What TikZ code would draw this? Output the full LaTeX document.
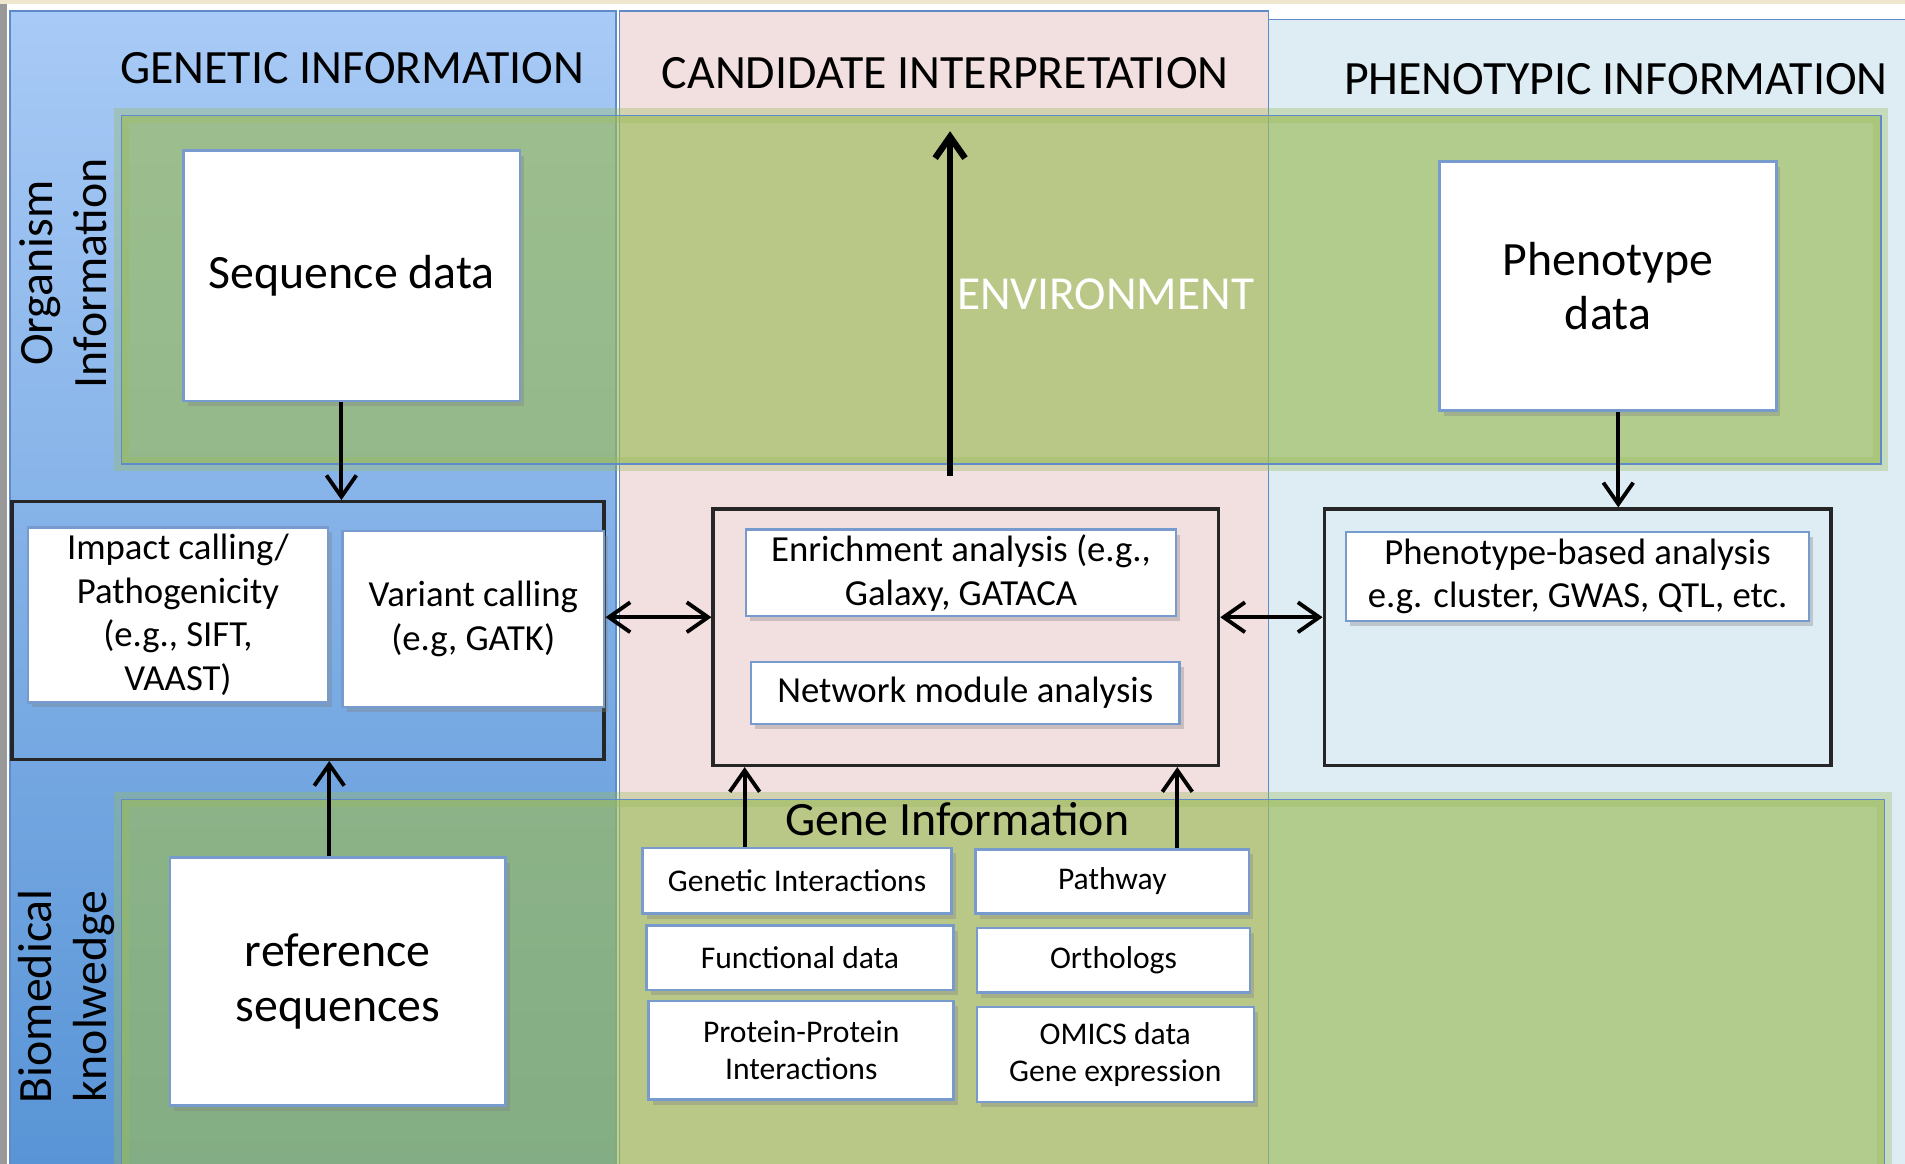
\documentclass[tikz,border=0pt]{standalone}
\usepackage{fontspec}
\setmainfont{Carlito}
\usetikzlibrary{arrows.meta,shadows}

\definecolor{slidebeige}{RGB}{238,230,206}
\definecolor{genblue}{RGB}{168,202,246}
\definecolor{genbluedark}{RGB}{88,148,214}
\definecolor{candpink}{RGB}{242,223,223}
\definecolor{phenblue}{RGB}{222,237,243}
\definecolor{bandgreen}{RGB}{155,187,89}
\definecolor{lineblue}{RGB}{95,140,200}
\definecolor{boxedge}{RGB}{120,155,205}

\tikzset{
	whitebox/.style={draw=boxedge, line width=0.6pt, fill=white, align=center, inner sep=1pt,
		drop shadow={shadow xshift=1pt, shadow yshift=-1.2pt, opacity=.35}},
	groupbox/.style={draw=black!85, line width=0.8pt},
	bigtext/.style={font=\fontsize{11.2}{12.8}\selectfont},
	headtext/.style={font=\fontsize{11.2}{13}\selectfont},
	smalltext/.style={font=\fontsize{8.6}{10.2}\selectfont},
	genetext/.style={font=\fontsize{7.4}{8.6}\selectfont},
	band/.style={fill=bandgreen, fill opacity=.65, draw=lineblue, line width=0.4pt},
	glow/.style={draw=bandgreen, draw opacity=.35, line width=1.2mm},
	arr/.style={-{Straight Barb[length=5pt,width=7pt]}, line width=0.9pt},
	dblarr/.style={{Straight Barb[length=5pt,width=7pt]}-{Straight Barb[length=5pt,width=7pt]}, line width=0.9pt},
}

\begin{document}
\begin{tikzpicture}[x=0.1mm, y=-0.1mm]
			%%%%% START %%%%%
			
			\useasboundingbox (0,0) rectangle (1568,958);
			\fill[slidebeige] (0,0) rectangle (1568,958);
			\fill[white] (0,3.5) rectangle (1568,958);
			\fill[black!40] (0,3.5) rectangle (6,958);
			
			% three columns
			\draw[draw=lineblue, line width=0.4pt, top color=genblue, bottom color=genbluedark] (8,9) rectangle (507,965);
			\draw[draw=lineblue, line width=0.4pt, fill=candpink] (510,9) rectangle (1044,965);
			\draw[draw=lineblue, line width=0.4pt, fill=phenblue] (1044,16) rectangle (1580,965);
			
			\node[headtext] (genhead) at (290,56) {GENETIC INFORMATION};
			\node[headtext] (candhead) at (778,60) {CANDIDATE INTERPRETATION};
			\node[headtext] (phenhead) at (1330,65) {PHENOTYPIC INFORMATION};
			
			% green bands
			\draw[glow] (100,95) rectangle (1548,382);
			\draw[band] (100,95) rectangle (1548,382);
			\draw[glow] (100,658) rectangle (1551,975);
			\draw[band] (100,658) rectangle (1551,975);
			
			\node[bigtext, rotate=90, align=center] (orglabel) at (52,225) {Organism\\Information};
			\node[bigtext, rotate=90, align=center] (biolabel) at (55,820) {Biomedical\\knolwedge};
			
			% organism level
			\node[whitebox, bigtext, minimum width=27.7mm, minimum height=20.6mm] (seq) at (289.5,227) {Sequence data};
			\node[whitebox, bigtext, minimum width=27.7mm, minimum height=20.5mm] (phen) at (1323.5,235.5) {Phenotype\\data};
			
			% analysis boxes
			\node[groupbox, minimum width=48.7mm, minimum height=21.2mm] (genbox) at (253.5,519) {};
			\node[groupbox, minimum width=41.6mm, minimum height=21.1mm] (candbox) at (795,524.5) {};
			\node[groupbox, minimum width=41.7mm, minimum height=21.1mm] (phenbox) at (1298.5,524.5) {};
			
			\node[whitebox, smalltext, minimum width=24.7mm, minimum height=14.4mm] (impact) at (146.5,506) {Impact calling/\\Pathogenicity\\(e.g., SIFT,\\VAAST)};
			\node[whitebox, smalltext, minimum width=21.5mm, minimum height=14.5mm] (variant) at (389.5,509.5) {Variant calling\\(e.g, GATK)};
			\node[whitebox, smalltext, minimum width=35.4mm, minimum height=7.1mm] (enrich) at (791,471.5) {Enrichment analysis (e.g.,\\Galaxy, GATACA};
			\node[whitebox, smalltext, minimum width=35.3mm, minimum height=5.1mm] (network) at (794.5,570.5) {Network module analysis};
			\node[whitebox, smalltext, minimum width=38.1mm, minimum height=7.3mm] (phenan) at (1298.5,474.5) {Phenotype-based analysis\\e.g. cluster, GWAS, QTL, etc.};
			
			% biomedical knowledge
			\node[whitebox, bigtext, minimum width=27.6mm, minimum height=20.4mm] (ref) at (278,808) {reference\\sequences};
			\node[bigtext] (geneinfo) at (788,674) {Gene Information};
			
			\node[whitebox, genetext, minimum width=25.4mm, minimum height=5.4mm] (geneint) at (656,725) {Genetic Interactions};
			\node[whitebox, genetext, minimum width=22.5mm, minimum height=5.3mm] (pathway) at (915.5,725.5) {Pathway};
			\node[whitebox, genetext, minimum width=25.3mm, minimum height=5.3mm] (funct) at (658.5,788.5) {Functional data};
			\node[whitebox, genetext, minimum width=22.5mm, minimum height=5.3mm] (ortho) at (916.5,790.5) {Orthologs};
			\node[whitebox, genetext, minimum width=25.1mm, minimum height=8.1mm] (ppi) at (659.5,864.5) {Protein-Protein\\Interactions};
			\node[whitebox, genetext, minimum width=22.8mm, minimum height=7.8mm] (omics) at (918,868) {OMICS data\\Gene expression};
			
			% connectors
			\draw[arr] ([xshift=-0.85mm]seq.south) -- ([xshift=-0.85mm]seq.south |- genbox.north);
			\draw[arr] ([xshift=0.85mm]phen.south) -- ([xshift=0.85mm]phen.south |- phenbox.north);
			\draw[arr] ([xshift=-0.7mm]ref.north) -- ([xshift=-0.7mm]ref.north |- genbox.south);
			\draw[arr] (geneint.north -| enrich.west) -- (candbox.south -| enrich.west);
			\draw[arr] (pathway.north -| enrich.east) -- (candbox.south -| enrich.east);
			\draw[dblarr] (genbox.east |- enrich.south) -- (candbox.west |- enrich.south);
			\draw[dblarr] (candbox.east |- enrich.south) -- (phenbox.west |- enrich.south);
			
			\coordinate (envfoot) at (782,392);
			\coordinate (envtip) at (782,108);
			\draw[arr, line width=1.5pt] (envfoot) -- (envtip);
			\node[headtext, text=white, anchor=west, inner sep=0pt, font=\fontsize{11.1}{13}\selectfont] (envlabel) at (787,242) {ENVIRONMENT};
			
			%%%%% END %%%%%
\end{tikzpicture}
\end{document}
